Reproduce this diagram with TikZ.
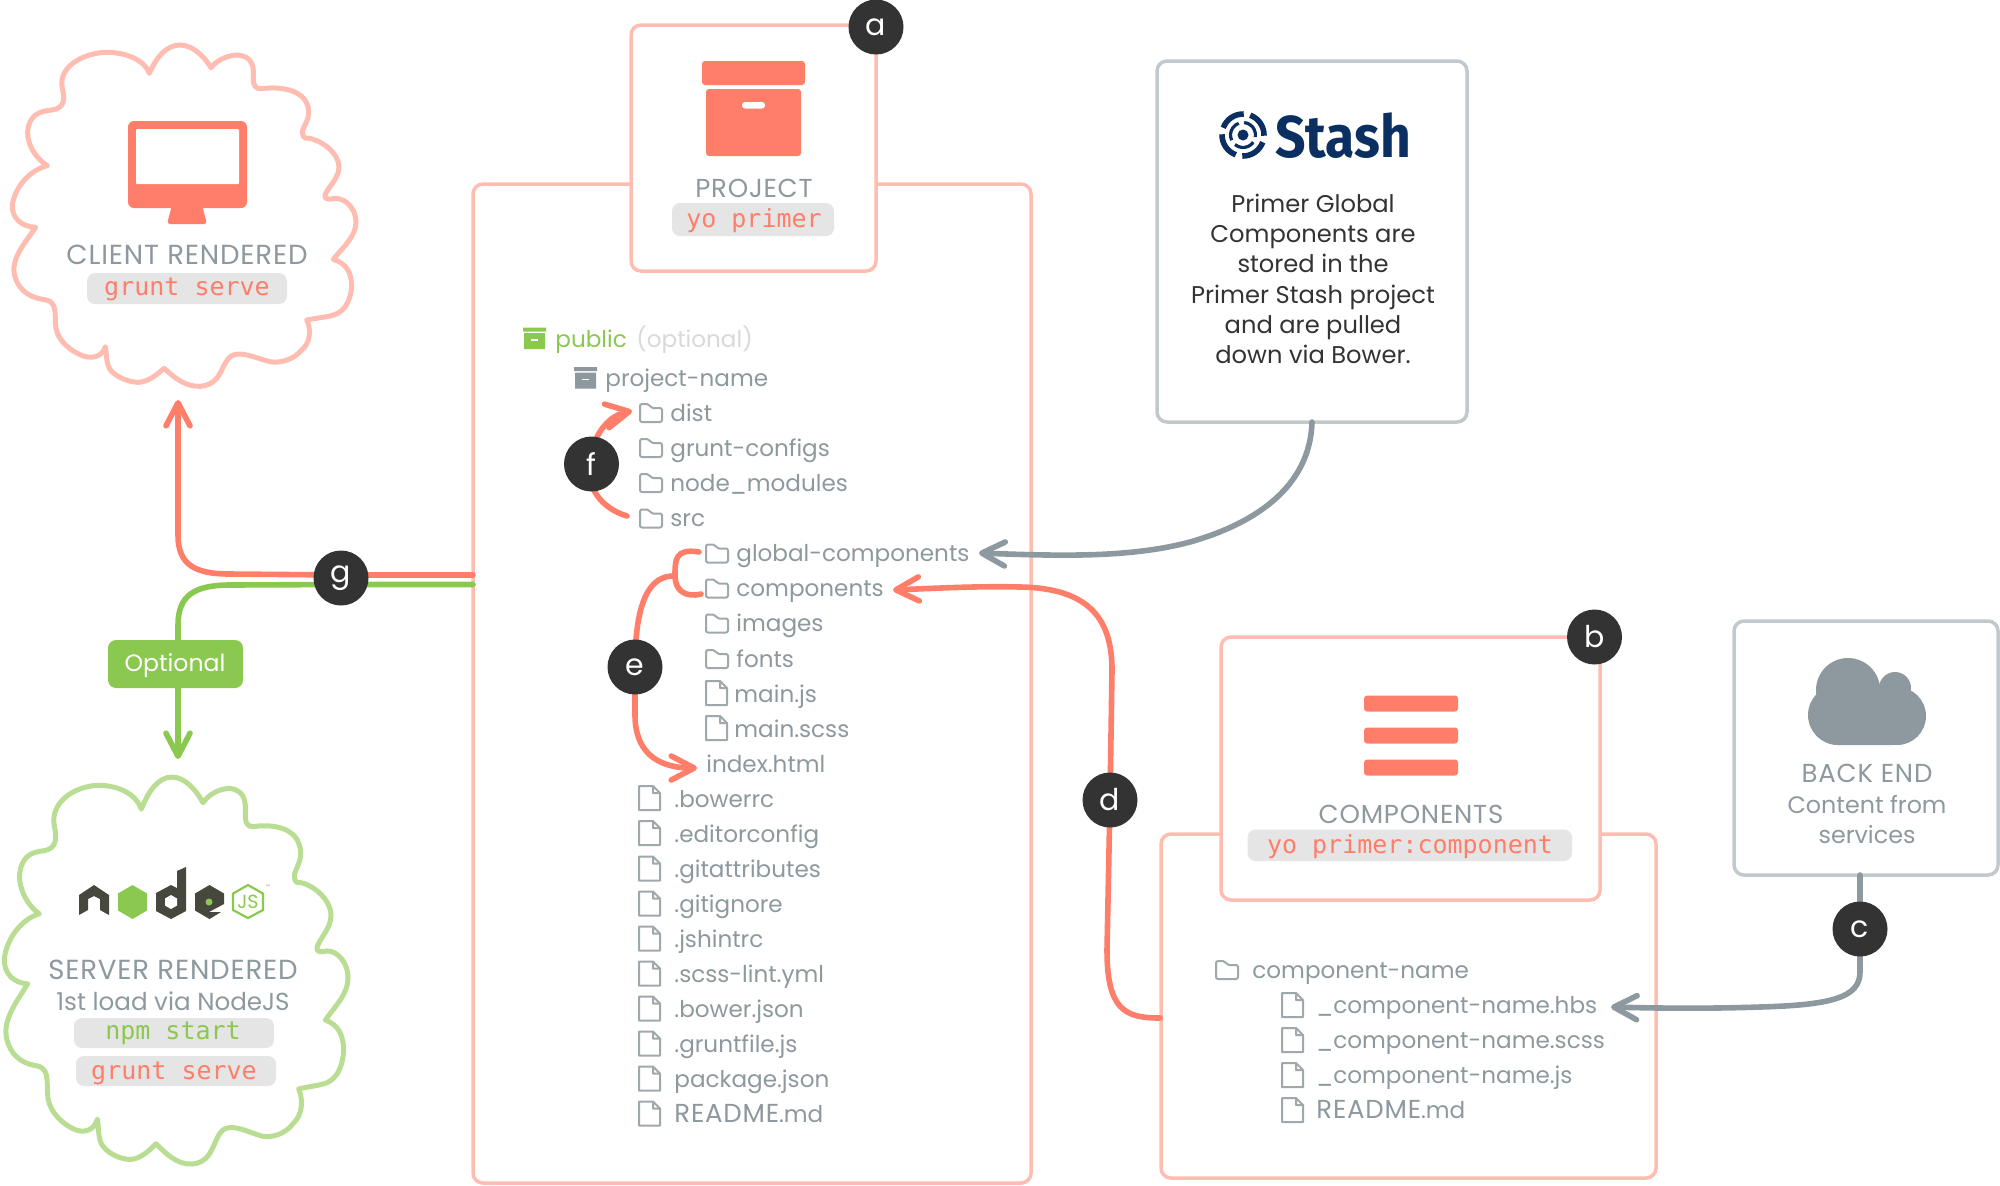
\documentclass[tikz,border=0pt]{standalone}
\usepackage{fontspec}
\setmainfont{Poppins}
\setmonofont{DejaVu Sans Mono}
\newfontfamily\stashfont{Fira Sans}
\newfontfamily\capsfont[LetterSpace=3]{Poppins}
\usetikzlibrary{arrows.meta}
\definecolor{pk}{HTML}{FFBDB2}
\definecolor{rd}{HTML}{FF7E69}
\definecolor{gn}{HTML}{8BC850}
\definecolor{lgn}{HTML}{B9DD92}
\definecolor{gy}{HTML}{8E999F}
\definecolor{lgy}{HTML}{C2C9CD}
\definecolor{pil}{HTML}{E5E5E5}
\definecolor{bdg}{HTML}{333333}
\definecolor{nav}{HTML}{0B2F61}
\definecolor{dk}{HTML}{46483E}
\tikzset{
 hand/.tip={Straight Barb[round,length=11.5pt,width=12pt]},
 cardp/.style={draw=pk,line width=1.75pt,fill=white,rounded corners=5pt,inner sep=0pt,outer sep=0pt},
 cardg/.style={draw=lgy,line width=1.75pt,fill=white,rounded corners=5pt,inner sep=0pt,outer sep=0pt},
 pillbox/.style={fill=pil,rounded corners=4pt,inner sep=0pt,outer sep=0pt},
 optbox/.style={fill=gn,rounded corners=4pt,inner sep=0pt,outer sep=0pt},
 badge/.style={circle,fill=bdg,text=white,minimum size=27.5pt,inner sep=0pt,font=\fontsize{15pt}{15pt}\selectfont},
 lbl/.style={anchor=base,inner sep=0pt,text=gy,font=\fontsize{11.9pt}{11.9pt}\selectfont},
 caps/.style={anchor=base,inner sep=0pt,text=gy,font=\capsfont\fontsize{13pt}{13pt}\selectfont},
 capb/.style={anchor=base,inner sep=0pt,text=gy,font=\capsfont\fontsize{13.8pt}{13.8pt}\selectfont},
 tree/.style={anchor=base west,inner sep=0pt,text=gy,font=\fontsize{11.55pt}{11.55pt}\selectfont},
 cmd/.style={anchor=base,inner sep=0pt,text=rd,font=\ttfamily\fontsize{12.5pt}{12.5pt}\selectfont},
 note/.style={anchor=base,inner sep=0pt,text=bdg,font=\fontsize{12.1pt}{12.1pt}\selectfont},
 conn/.style={line width=2.8pt,line cap=round,line join=round},
 ico/.style={draw=gy!85,line width=1pt,line join=round},
}
\newcommand{\bx}[6]{%
 \pgfmathsetmacro\bw{(#4-#2)*0.5}\pgfmathsetmacro\bh{(#5-#3)*0.5}%
 \node[#6,minimum width=\bw pt,minimum height=\bh pt] (#1) at ({(#2+#4)/2},{(#3+#5)/2}) {};}
\newcommand{\fold}[2]{\draw[ico,rounded corners=1pt] (#1,#2+1) -- ++(0,-18) -- ++(9,0) -- ++(2,4) -- ++(11,0) -- ++(0,14) -- cycle;}
\newcommand{\fil}[2]{\draw[ico] (#1,#2+3) -- ++(0,-24) -- ++(14,0) -- ++(7,7) -- ++(0,17) -- cycle (#1+14,#2-21) -- ++(0,7) -- ++(7,0);}
\newcommand{\readme}{{\capsfont\fontsize{13pt}{13pt}\selectfont README}.md}
\newcommand{\cloudshape}{%
 (448,220) .. controls (470,170) and (500,135) .. (540,135) .. controls (575,135) and (610,165) .. (633,203)
 .. controls (655,175) and (690,165) .. (715,165) .. controls (750,170) and (762,190) .. (760,225) .. controls (758,255) and (765,268) .. (785,266)
 .. controls (830,260) and (890,265) .. (915,300) .. controls (935,335) and (925,355) .. (910,385) .. controls (903,405) and (910,418) .. (925,414)
 .. controls (960,420) and (1015,455) .. (1017,500) .. controls (1017,535) and (985,560) .. (975,585) .. controls (972,597) and (985,600) .. (1005,595)
 .. controls (1040,595) and (1068,630) .. (1068,665) .. controls (1068,710) and (1030,740) .. (1000,778)
 .. controls (1040,790) and (1055,820) .. (1055,860) .. controls (1050,910) and (1030,940) .. (990,948) .. controls (970,952) and (945,955) .. (920,960)
 .. controls (935,990) and (930,1030) .. (905,1050) .. controls (880,1080) and (840,1090) .. (810,1085) .. controls (770,1075) and (730,1055) .. (700,1065) .. controls (675,1075) and (670,1110) .. (650,1135) .. controls (625,1165) and (580,1165) .. (545,1145) .. controls (525,1135) and (510,1120) .. (492,1105)
 .. controls (470,1125) and (445,1145) .. (415,1147) .. controls (375,1145) and (340,1125) .. (328,1105) .. controls (318,1085) and (320,1060) .. (316,1040)
 .. controls (305,1075) and (270,1075) .. (250,1068) .. controls (215,1055) and (175,1025) .. (168,985) .. controls (162,950) and (175,910) .. (140,900)
 .. controls (100,895) and (60,880) .. (45,830) .. controls (30,780) and (70,735) .. (107,682)
 .. controls (65,680) and (35,655) .. (37,615) .. controls (45,560) and (90,510) .. (142,497)
 .. controls (100,470) and (75,420) .. (85,380) .. controls (95,340) and (125,333) .. (155,330) .. controls (195,325) and (195,295) .. (187,265) .. controls (175,210) and (230,165) .. (310,157) .. controls (370,155) and (430,175) .. (448,220) -- cycle}
\begin{document}
\begin{tikzpicture}[x=0.5pt,y=-0.5pt]
\useasboundingbox (0,0) rectangle (2000,1185);
% clouds
\begin{scope}[x=0.16667pt,y=-0.16667pt]
\draw[pk,line width=2.5pt,line join=round] \cloudshape;
\end{scope}
\begin{scope}[x=0.16667pt,y=-0.189pt,xshift=-4pt,yshift=-363pt]
\draw[lgn,line width=2.5pt,line join=round] \cloudshape;
\end{scope}
% monitor
\fill[rd,rounded corners=3pt] (128,121) rectangle (247,208);
\fill[white,rounded corners=.5pt] (136,129) rectangle (239,184);
\fill[rd,rounded corners=1.5pt] (172,205) -- (167,224) -- (207,224) -- (202,205) -- cycle;
\node[capb] (clientlbl) at (187,264) {CLIENT RENDERED};
\bx{clientpill}{87}{273}{287}{304}{pillbox}
\node[cmd] (clientcmd) at (187,295) {grunt serve};
% outer boxes and cards
\bx{outerp}{473}{184}{1031}{1183}{cardp}
\bx{outerc}{1161}{834}{1656}{1178}{cardp}
\bx{projcard}{631}{25}{876}{271}{cardp}
\bx{compcard}{1221}{637}{1600}{900}{cardp}
\bx{stashcard}{1157}{61}{1467}{422}{cardg}
\bx{backcard}{1734}{621}{1998}{875}{cardg}
% project icon
\fill[rd,rounded corners=1.5pt] (702,61) rectangle (805,85);
\fill[rd,rounded corners=1.5pt] (706,89) rectangle (801,156);
\fill[white,rounded corners=1.5pt] (742,102) rectangle (765,108.5);
\node[caps] (projlbl) at (754,197) {PROJECT};
\bx{projpill}{672}{203}{834}{236}{pillbox}
\node[cmd] (projcmd) at (754,227.5) {yo primer};
% components icon
\fill[rd,rounded corners=1.5pt] (1364,695.5) rectangle (1458,711.5);
\fill[rd,rounded corners=1.5pt] (1364,727.5) rectangle (1458,743.5);
\fill[rd,rounded corners=1.5pt] (1364,759.5) rectangle (1458,775.5);
\node[caps] (complbl) at (1411,823) {COMPONENTS};
\bx{comppill}{1247.5}{829.5}{1572}{861}{pillbox}
\node[cmd] (compcmd) at (1410,853) {yo primer:component};
% stash
\foreach \a in {20,110,200,290}{\draw[nav,line width=2.8pt] (1243,135) ++(\a:21) arc[start angle=\a,end angle=\a+72,radius=21];}
\foreach \a in {35,155,275}{\draw[nav,line width=1.6pt] (1243,135) ++(\a:12.5) arc[start angle=\a,end angle=\a+95,radius=12.5];}
\fill[nav] (1243,135) circle[radius=5.5];
\node[anchor=base west,inner sep=0pt,text=nav] (stashlogo) at (1275,157) {\scalebox{.905}[1]{\stashfont\bfseries\fontsize{29.5pt}{29.5pt}\selectfont Stash}};
\node[note] (s1) at (1313,212) {Primer Global};
\node[note] (s2) at (1313,242) {Components are};
\node[note] (s3) at (1313,272) {stored in the};
\node[note] (s4) at (1313,303) {Primer Stash project};
\node[note] (s5) at (1313,333) {and are pulled};
\node[note] (s6) at (1313,363) {down via Bower.};
% back end
\fill[gy] (1838,715) circle[radius=30] (1848,690) circle[radius=32] (1895,688) circle[radius=16] (1897,716) circle[radius=29];
\fill[gy,rounded corners=6pt] (1825,700) rectangle (1905,745);
\node[caps] (b1) at (1867,782) {BACK END};
\node[lbl] (b2) at (1867,813) {Content from};
\node[lbl] (b3) at (1867,843) {services};
% server
\fill[dk] (79,895) -- (94,885) -- (109,895) -- (109,915) -- (100,910) -- (100,899) -- (94,896) -- (88,899) -- (88,910) -- (79,915) -- cycle;
\fill[gn] (132.5,885) -- (147,893.5) -- (147,910.5) -- (132.5,919) -- (118,910.5) -- (118,893.5) -- cycle;
\fill[dk] (186,867) -- (186,911) -- (171,919) -- (156,911) -- (156,893) -- (171,885) -- (177,888) -- (177,871) -- cycle;
\fill[white] (171,895) -- (177,898.5) -- (177,905.5) -- (171,909) -- (165,905.5) -- (165,898.5) -- cycle;
\fill[dk] (209.5,885) -- (224,893.5) -- (224,904) -- (209,912) -- (221,912) -- (209.5,919) -- (195,910.5) -- (195,893.5) -- cycle;
\fill[gn] (209,902) circle[radius=3.5];
\draw[gn,line width=1.1pt] (248,885) -- (263,893.5) -- (263,910) -- (248,918) -- (233,910) -- (233,893.5) -- cycle;
\node[inner sep=0pt,text=gn,font=\fontsize{9.5pt}{9.5pt}\selectfont] (jslbl) at (248,902) {JS};
\node[inner sep=0pt,text=gy,font=\fontsize{2.5pt}{2.5pt}\selectfont] (tmlbl) at (268,887) {™};
\node[capb] (srv1) at (173,979) {SERVER RENDERED};
\node[lbl,font=\fontsize{12.3pt}{12.3pt}\selectfont] (srv2) at (173,1010) {1st load via NodeJS};
\bx{npmpill}{74}{1018}{274}{1048}{pillbox}
\node[cmd,text=gn] (npmcmd) at (173,1039) {npm start};
\bx{gspill}{76}{1056}{276}{1086}{pillbox}
\node[cmd] (gscmd) at (174,1079) {grunt serve};
% tree
\fill[gn] (523,327.5) rectangle (546,331.5) (524,333) rectangle (545,349);
\fill[white] (531,339) rectangle (538,340.5);
\node[tree,text=gn] (publicT) at (555,347) {public};
\node[tree,text=black!15] (optT) at (636,347) {(optional)};
\fill[gy] (574,367) rectangle (597,371) (575,372.5) rectangle (596,388.5);
\fill[white] (582,378.5) rectangle (589,380);
\node[tree] (pnameT) at (605,386) {project-name};
\fold{640}{421}\node[tree] (distT) at (670,421) {dist};
\fold{640}{456}\node[tree] (gruntT) at (670,456) {grunt-configs};
\fold{640}{491}\node[tree] (nodeT) at (670,491) {node\_modules};
\fold{640}{526.5}\node[tree] (srcT) at (670,526.5) {src};
\fold{706}{561.5}\node[tree] (gcT) at (736,561.5) {global-components};
\fold{706}{596.5}\node[tree] (compT) at (736,596.5) {components};
\fold{706}{631.5}\node[tree] (imgT) at (736,631.5) {images};
\fold{706}{667}\node[tree] (fontT) at (736,667) {fonts};
\fil{706}{702}\node[tree] (mjsT) at (734,702) {main.js};
\fil{706}{737}\node[tree] (mscT) at (734,737) {main.scss};
\node[tree] (idxT) at (706,772) {index.html};
\fil{639}{807}\node[tree] (f1) at (674,807) {.bowerrc};
\fil{639}{842}\node[tree] (f2) at (674,842) {.editorconfig};
\fil{639}{877.5}\node[tree] (f3) at (674,877.5) {.gitattributes};
\fil{639}{912.5}\node[tree] (f4) at (674,912.5) {.gitignore};
\fil{639}{947.5}\node[tree] (f5) at (674,947.5) {.jshintrc};
\fil{639}{982.5}\node[tree] (f6) at (674,982.5) {.scss-lint.yml};
\fil{639}{1017.5}\node[tree] (f7) at (674,1017.5) {.bower.json};
\fil{639}{1052.5}\node[tree] (f8) at (674,1052.5) {.gruntfile.js};
\fil{639}{1087.5}\node[tree] (f9) at (674,1087.5) {package.json};
\fil{639}{1122.5}\node[tree] (f10) at (674,1122.5) {\readme};
% component tree
\fold{1216}{978}\node[tree] (cnT) at (1252,978) {component-name};
\fil{1282}{1014}\node[tree] (c1) at (1316,1013) {\_component-name.hbs};
\fil{1282}{1049}\node[tree] (c2) at (1316,1048) {\_component-name.scss};
\fil{1282}{1084}\node[tree] (c3) at (1316,1083) {\_component-name.js};
\fil{1282}{1119}\node[tree] (c4) at (1316,1118) {\readme};
% free ends
\coordinate (tipGC) at (979,553);
\coordinate (tipComp) at (893,590);
\coordinate (tipHbs) at (1611,1007);
\coordinate (tipIdx) at (697,768);
\coordinate (tipDist) at (632,411);
\coordinate (endSrc) at (627,516);
\coordinate (endGlob) at (699,552);
\coordinate (endComp) at (701,594);
\coordinate (joinE) at (675,576);
\coordinate (tipClient) at (178,400);
\coordinate (tipServer) at (178,759);
\coordinate (gA) at (473,575);
\coordinate (gB) at (473,584.5);
\coordinate (startD) at (1160,1018);
\coordinate (bdE) at (635,667);
\coordinate (bdF) at (591.5,464);
\coordinate (bdG) at (341,578);
\coordinate (bdD) at (1110,800);
\coordinate (bdC) at (1860,929);
% connectors
\draw[conn,gy,-{hand}] (stashcard.south) .. controls (1310,490) and (1250,525) .. (1190,542) .. controls (1130,558) and (1060,556) .. (tipGC);
\draw[conn,rd,-{hand}] (startD) .. controls (1125,1018) and (1107,1010) .. (1107,950) -- (bdD) -- (1112,670) .. controls (1112,620) and (1090,588) .. (1020,587) .. controls (980,586) and (940,588) .. (tipComp);
\draw[conn,gy,-{hand}] (backcard.south -| bdC) -- (bdC) -- (1860,972) .. controls (1860,998) and (1830,1005) .. (1760,1007) .. controls (1700,1009) and (1650,1008) .. (tipHbs);
\draw[conn,rd] (endGlob) .. controls (675,548) and (675,560) .. (joinE) .. controls (675,590) and (685,598) .. (endComp);
\draw[conn,rd] (joinE) .. controls (650,575) and (635,600) .. (bdE);
\draw[conn,rd,-{hand}] (bdE) -- (635,715) .. controls (635,750) and (655,768) .. (tipIdx);
\draw[conn,rd,-{hand}] (endSrc) .. controls (600,508) and (585,485) .. (bdF) .. controls (590,440) and (606,416) .. (tipDist);
\draw[conn,rd,-{hand}] (gA) -- (bdG |- gA) -- (230,574) .. controls (195,574) and (178,565) .. (178,535) -- (tipClient);
\draw[conn,gn,-{hand}] (gB) -- (bdG |- gB) -- (230,585) .. controls (195,585) and (178,595) .. (178,625) -- (tipServer);
\bx{optpill}{108}{640}{243}{688}{optbox}
\node[anchor=base,inner sep=0pt,text=white,font=\fontsize{11.8pt}{11.8pt}\selectfont] (optlbl) at (175,671) {Optional};
% badges
\node[badge] (a) at (876,27) {a};
\node[badge] (b) at (1594.5,637) {b};
\node[badge] (c) at (bdC) {c};
\node[badge] (d) at (bdD) {d};
\node[badge] (e) at (bdE) {e};
\node[badge] (f) at (bdF) {f};
\node[badge] (g) at (bdG) {g};
\end{tikzpicture}
\end{document}
